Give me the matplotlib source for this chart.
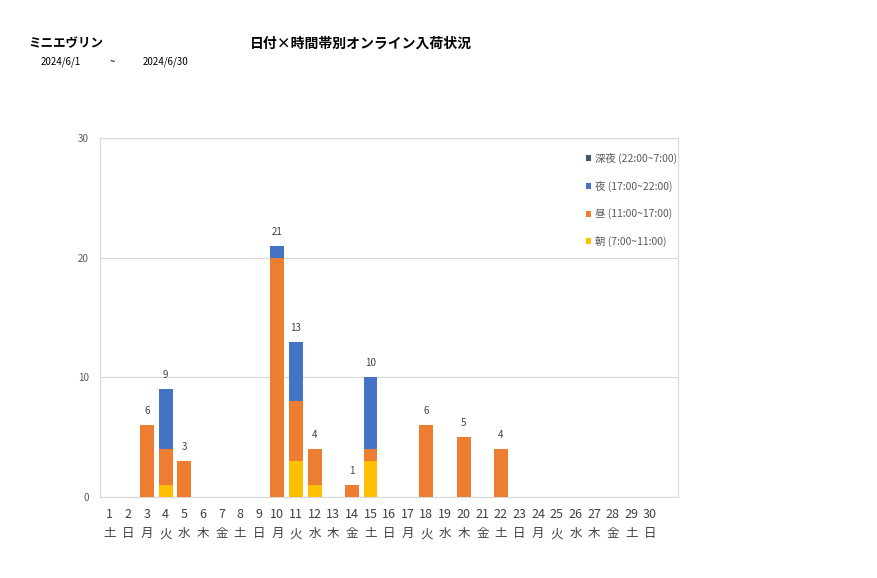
import matplotlib.pyplot as plt
import numpy as np

plt.rcParams['font.family'] = ['Noto Sans CJK JP', 'DejaVu Sans']

days = list(range(1, 31))
weekdays = ['土', '日', '月', '火', '水', '木', '金'] * 5
# counts per time band, June 2024
asa = [0, 0, 0, 1, 0, 0, 0, 0, 0, 0, 3, 1, 0, 0, 3,
       0, 0, 0, 0, 0, 0, 0, 0, 0, 0, 0, 0, 0, 0, 0]
hiru = [0, 0, 6, 3, 3, 0, 0, 0, 0, 20, 5, 3, 0, 1, 1,
        0, 0, 6, 0, 5, 0, 4, 0, 0, 0, 0, 0, 0, 0, 0]
yoru = [0, 0, 0, 5, 0, 0, 0, 0, 0, 1, 5, 0, 0, 0, 6,
        0, 0, 0, 0, 0, 0, 0, 0, 0, 0, 0, 0, 0, 0, 0]
shinya = [0] * 30

labels = ['朝 (7:00~11:00)', '昼 (11:00~17:00)', '夜 (17:00~22:00)', '深夜 (22:00~7:00)']
colors = ['#FFC000', '#ED7D31', '#4472C4', '#44546A']

fig = plt.figure(figsize=(8.77, 5.78), dpi=100)
ax = fig.add_axes([0.114, 0.140, 0.659, 0.621])

x = np.arange(len(days))
bottom = np.zeros(len(days))
handles = []
for vals, lab, col in zip([asa, hiru, yoru, shinya], labels, colors):
    h = ax.bar(x, vals, 0.75, bottom=bottom, color=col, label=lab, zorder=3)
    handles.append(h)
    bottom += np.array(vals)

for i, t in enumerate(bottom):
    if t > 0:
        ax.text(i, t + 0.75, str(int(t)), ha='center', va='bottom', fontsize=7, color='#404040')

ax.set_xlim(-0.52, 30.5)
ax.set_ylim(0, 30)
ax.set_yticks([0, 10, 20, 30])
ax.tick_params(axis='y', labelsize=7, labelcolor='#595959', length=0, pad=8)
ax.set_xticks(x)
ax.set_xticklabels([f'{d}\n{w}' for d, w in zip(days, weekdays)], fontsize=9,
                   color='#404040', linespacing=1.6)
ax.tick_params(axis='x', length=0, pad=8)
ax.grid(axis='y', color='#D9D9D9', linewidth=0.8, zorder=0)
for s in ax.spines.values():
    s.set_color('#D9D9D9')

leg = ax.legend(handles[::-1], labels[::-1], loc='upper right', frameon=False,
                fontsize=7.5, labelspacing=1.6, handlelength=0.5, handleheight=0.5,
                handletextpad=0.4, bbox_to_anchor=(1.015, 0.985), labelcolor='#595959')

fig.text(0.032, 0.925, 'ミニエヴリン', fontsize=9, fontweight='bold', va='center')
fig.text(0.285, 0.925, '日付×時間帯別オンライン入荷状況', fontsize=10, fontweight='bold', va='center')
fig.text(0.046, 0.893, '2024/6/1', fontsize=7, va='center')
fig.text(0.125, 0.893, '~', fontsize=7, va='center')
fig.text(0.163, 0.893, '2024/6/30', fontsize=7, va='center')

fig.savefig('out.png', dpi=100)
